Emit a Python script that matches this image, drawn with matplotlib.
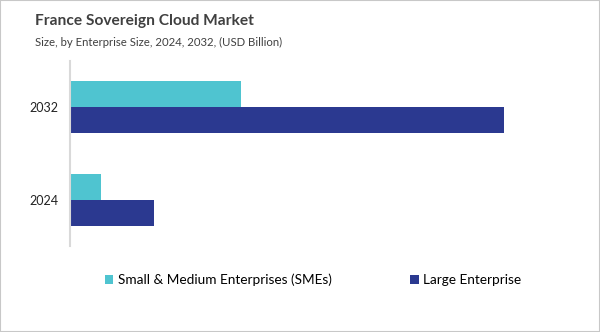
import numpy as np
import matplotlib.pyplot as plt
from matplotlib.patches import Rectangle

plt.rcParams['font.family'] = ['Lato', 'DejaVu Sans']

years = ['2024', '2032']
sme = [0.62, 3.42]
large = [1.68, 8.68]
series_names = ['Small & Medium Enterprises (SMEs)', 'Large Enterprise']
colors = ['#4fc4d0', '#2b3990']

fig = plt.figure(figsize=(6, 3.32), dpi=100)
ax = fig.add_axes([70 / 600, 1 - 246 / 332, 510 / 600, 185 / 332])

y = np.arange(len(years))
h = 0.28
ax.barh(y + h / 2, sme, height=h, color=colors[0], label=series_names[0])
ax.barh(y - h / 2, large, height=h, color=colors[1], label=series_names[1])

ax.set_ylim(-0.5, 1.5)
ax.set_xlim(0, 10.2)
ax.set_yticks(y)
ax.set_yticklabels(years, fontsize=9, color='#222222')
ax.tick_params(axis='y', length=0, pad=8)
ax.set_xticks([])
for s in ['top', 'right', 'bottom']:
    ax.spines[s].set_visible(False)
ax.spines['left'].set_color('#d9d9d9')
ax.spines['left'].set_linewidth(1.5)

fig.text(35 / 600, 1 - 21 / 332, 'France Sovereign Cloud Market', fontsize=11.2,
         fontweight='bold', color='#404040', va='center')
fig.text(35 / 600, 1 - 42 / 332, 'Size, by Enterprise Size, 2024, 2032, (USD Billion)',
         fontsize=8.2, color='#404040', va='center')

fig.legend(loc='center', bbox_to_anchor=(313 / 600, 1 - 280 / 332), ncol=2,
           frameon=False, fontsize=9.8, handlelength=0.6, handleheight=0.6,
           handletextpad=0.3, columnspacing=5.8)

fig.patches.append(Rectangle((0, 0), 1, 1, transform=fig.transFigure, fill=False,
                             edgecolor='#c8c8c8', linewidth=1.5))

fig.savefig('out.png', dpi=100)
